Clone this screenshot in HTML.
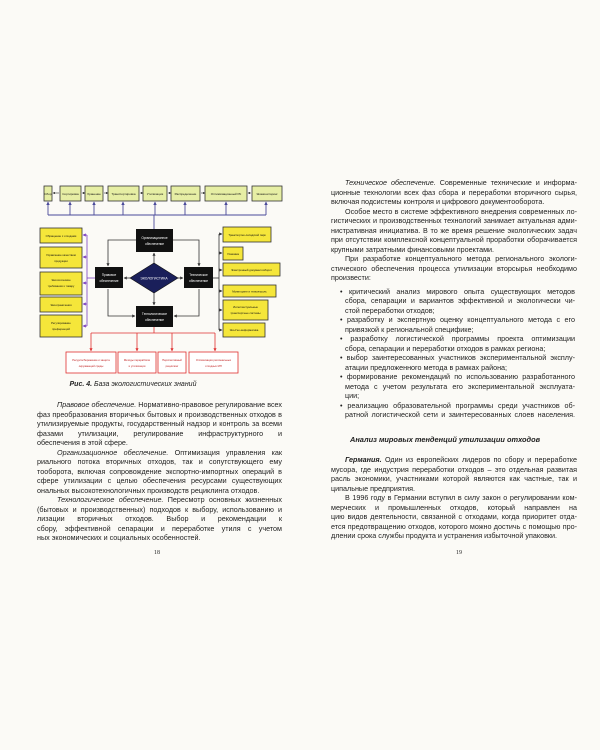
<!DOCTYPE html>
<html><head><meta charset="utf-8"><style>
html,body{margin:0;padding:0;background:#fbfaf6;}
body{width:600px;height:750px;position:relative;overflow:hidden;font-family:"Liberation Sans",sans-serif;color:#1e1e1e;}
.t{position:absolute;font-size:7.2px;line-height:9.5px;white-space:nowrap;}
.l{display:block;text-align:justify;text-align-last:justify;white-space:normal;height:9.5px;overflow:hidden;}
.e{text-align-last:left;}
i{font-style:italic;}
svg{position:absolute;left:0;top:0;}
</style></head><body>
<svg width="600" height="750" viewBox="0 0 600 750" font-family="Liberation Sans" >
<defs>
<marker id="a" markerWidth="4" markerHeight="4" refX="3.5" refY="2" orient="auto"><path d="M0,0L4,2L0,4z" fill="#333"/></marker>
<marker id="ab" markerWidth="4" markerHeight="4" refX="3.5" refY="2" orient="auto"><path d="M0,0L4,2L0,4z" fill="#4a4a9a"/></marker>
<marker id="ar" markerWidth="4" markerHeight="4" refX="3.5" refY="2" orient="auto"><path d="M0,0L4,2L0,4z" fill="#e03030"/></marker>
<marker id="ap" markerWidth="4" markerHeight="4" refX="3.5" refY="2" orient="auto"><path d="M0,0L4,2L0,4z" fill="#7a3fbf"/></marker>
</defs>
<g fill="#e6eea4" stroke="#333" stroke-width="0.8">
<rect x="44" y="186" width="8" height="15"/><rect x="60" y="186" width="21" height="15"/><rect x="85" y="186" width="18" height="15"/><rect x="108" y="186" width="31" height="15"/><rect x="143" y="186" width="24" height="15"/><rect x="171" y="186" width="29" height="15"/><rect x="205" y="186" width="42" height="15"/><rect x="252" y="186" width="30" height="15"/>
</g>
<g font-size="3" fill="#111" text-anchor="middle">
<text x="48" y="195">Сбор</text><text x="70.5" y="195">Сортировка</text><text x="94" y="195">Хранение</text><text x="123.5" y="195">Транспортировка</text><text x="155" y="195">Утилизация</text><text x="185.5" y="195">Распределение</text><text x="226" y="195">Оптимизационный РК</text><text x="267" y="195">Экомониторинг</text>
</g>
<g stroke="#333" stroke-width="0.6" marker-end="url(#a)">
<line x1="59" y1="193" x2="53" y2="193"/><line x1="82" y1="193" x2="85" y2="193"/><line x1="104" y1="193" x2="108" y2="193"/><line x1="140" y1="193" x2="143" y2="193"/><line x1="168" y1="193" x2="171" y2="193"/><line x1="201" y1="193" x2="205" y2="193"/><line x1="251" y1="193" x2="248" y2="193"/>
</g>
<g stroke="#4a4a9a" stroke-width="0.9" fill="none">
<path d="M48,215H266"/>
<g marker-end="url(#ab)"><line x1="48" y1="215" x2="48" y2="202"/><line x1="70" y1="215" x2="70" y2="202"/><line x1="94" y1="215" x2="94" y2="202"/><line x1="123" y1="215" x2="123" y2="202"/><line x1="155" y1="215" x2="155" y2="202"/><line x1="185" y1="215" x2="185" y2="202"/><line x1="226" y1="215" x2="226" y2="202"/><line x1="266" y1="215" x2="266" y2="202"/></g>
<line x1="154" y1="215" x2="154" y2="229"/>
</g>
<g stroke="#333" stroke-width="0.8" fill="none">
<path d="M136,240H108V266" marker-end="url(#a)"/><path d="M173,240H199V266" marker-end="url(#a)"/>
<path d="M108,289V316H135" marker-end="url(#a)"/><path d="M199,289V316H174" marker-end="url(#a)"/>
<line x1="154" y1="263" x2="154" y2="253" marker-end="url(#a)"/><line x1="154" y1="293" x2="154" y2="305" marker-end="url(#a)"/>
<line x1="130" y1="278" x2="124" y2="278" marker-end="url(#a)"/><line x1="178" y1="278" x2="183" y2="278" marker-end="url(#a)"/>
</g>
<g fill="#111"><rect x="136" y="229" width="37" height="23"/><rect x="95" y="267" width="28" height="21"/><rect x="184" y="267" width="29" height="21"/><rect x="136" y="306" width="37" height="21"/></g>
<polygon points="154,263 178,278 154,293 130,278" fill="#1a1f5a" stroke="#111" stroke-width="0.6"/>
<g font-size="3.2" fill="#fff" text-anchor="middle">
<text x="154.5" y="239">Организационное</text><text x="154.5" y="245">обеспечение</text>
<text x="109" y="276">Правовое</text><text x="109" y="282">обеспечение</text>
<text x="198.5" y="276">Техническое</text><text x="198.5" y="282">обеспечение</text>
<text x="154.5" y="315">Технологическое</text><text x="154.5" y="321">обеспечение</text>
<text x="154" y="279.5" font-size="3.4">ЭКОЛОГИСТИКА</text>
</g>
<g stroke="#7a3fbf" stroke-width="0.8" fill="none">
<path d="M87,235V326"/><line x1="87" y1="278" x2="95" y2="278"/>
<g marker-end="url(#ap)"><line x1="87" y1="235" x2="83" y2="235"/><line x1="87" y1="257" x2="83" y2="257"/><line x1="87" y1="283" x2="83" y2="283"/><line x1="87" y1="304" x2="83" y2="304"/><line x1="87" y1="326" x2="83" y2="326"/></g>
</g>
<g fill="#f5e63a" stroke="#333" stroke-width="0.8">
<rect x="40" y="228" width="42" height="15"/><rect x="40" y="247" width="42" height="21"/><rect x="40" y="272" width="42" height="23"/><rect x="40" y="297" width="42" height="15"/><rect x="40" y="315" width="42" height="22"/>
</g>
<g font-size="2.8" fill="#111" text-anchor="middle">
<text x="61" y="237">Обращение с отходами</text>
<text x="61" y="256">Управление качеством</text><text x="61" y="262">продукции</text>
<text x="61" y="281">Экологические</text><text x="61" y="287">требования к товару</text>
<text x="61" y="306">Экоограничения</text>
<text x="61" y="324">Регулирование</text><text x="61" y="330">преференций</text>
</g>
<g stroke="#333" stroke-width="0.8" fill="none">
<path d="M219,234V330"/><line x1="213" y1="278" x2="219" y2="278"/>
<g marker-end="url(#a)"><line x1="219" y1="234" x2="222" y2="234"/><line x1="219" y1="253" x2="222" y2="253"/><line x1="219" y1="270" x2="222" y2="270"/><line x1="219" y1="291" x2="222" y2="291"/><line x1="219" y1="310" x2="222" y2="310"/><line x1="219" y1="330" x2="222" y2="330"/></g>
</g>
<g fill="#f5e63a" stroke="#333" stroke-width="0.8">
<rect x="223" y="227" width="48" height="15"/><rect x="223" y="247" width="20" height="13"/><rect x="223" y="263" width="57" height="13"/><rect x="223" y="285" width="53" height="12"/><rect x="223" y="300" width="45" height="20"/><rect x="223" y="323" width="42" height="14"/>
</g>
<g font-size="2.8" fill="#111" text-anchor="middle">
<text x="247" y="236">Транспортно-складской парк</text><text x="233" y="255">Упаковка</text><text x="251.5" y="271">Электронный документооборот</text><text x="249.5" y="292.5">Мониторинг и техконтроль</text><text x="245.5" y="308">Интеллектуальные</text><text x="245.5" y="314">транспортные системы</text><text x="244" y="331">Эко-Гео-информатика</text>
</g>
<g stroke="#e03030" stroke-width="0.8" fill="none">
<path d="M154,327V333M91,333H215"/>
<g marker-end="url(#ar)"><line x1="91" y1="333" x2="91" y2="351"/><line x1="137" y1="333" x2="137" y2="351"/><line x1="172" y1="333" x2="172" y2="351"/><line x1="215" y1="333" x2="215" y2="351"/></g>
<rect x="66" y="352" width="50" height="21" fill="#fff"/><rect x="118" y="352" width="38" height="21" fill="#fff"/><rect x="158" y="352" width="28" height="21" fill="#fff"/><rect x="189" y="352" width="49" height="21" fill="#fff"/>
</g>
<g font-size="2.7" fill="#c02020" text-anchor="middle">
<text x="91" y="361">Ресурсосбережение и защита</text><text x="91" y="367">окружающей среды</text>
<text x="137" y="361">Методы переработки</text><text x="137" y="367">и утилизации</text>
<text x="172" y="361">Перспективный</text><text x="172" y="367">рециклинг</text>
<text x="213.5" y="361">Оптимизация региональных</text><text x="213.5" y="367">отходных МП</text>
</g>
<text x="133" y="386" font-size="7" text-anchor="middle" fill="#222" font-style="italic"><tspan font-weight="bold">Рис. 4.</tspan> База экологистических знаний</text>
</svg>

<div class="t" style="left:37px;top:400px;width:245px;">
<span class="l" style="padding-left:20px"><i>Правовое обеспечение.</i> Нормативно-правовое регулирование всех</span>
<span class="l">фаз преобразования вторичных бытовых и производственных отходов в</span>
<span class="l">утилизируемые продукты, государственный надзор и контроль за всеми</span>
<span class="l">фазами утилизации, регулирование инфраструктурного и персонального</span>
<span class="l e">обеспечения в этой сфере.</span>
<span class="l" style="padding-left:20px"><i>Организационное обеспечение.</i> Оптимизация управления как мате-</span>
<span class="l">риального потока вторичных отходов, так и сопутствующего ему докумен-</span>
<span class="l">тооборота, включая сопровождение экспортно-импортных операций в</span>
<span class="l">сфере утилизации с целью обеспечения ресурсами существующих наци-</span>
<span class="l e">ональных высокотехнологичных производств рециклинга отходов.</span>
<span class="l" style="padding-left:20px"><i>Технологическое обеспечение.</i> Пересмотр основных жизненных</span>
<span class="l">(бытовых и производственных) подходов к выбору, использованию и ути-</span>
<span class="l">лизации вторичных отходов. Выбор и рекомендации к оптимизационному</span>
<span class="l">сбору, эффективной сепарации и переработке утиля с учетом региональ-</span>
<span class="l e">ных экономических и социальных особенностей.</span>
</div>
<div class="t" style="left:154px;top:549px;font-family:'Liberation Serif';font-size:6px;">18</div>

<div class="t" style="left:331px;top:178px;width:246px;">
<span class="l" style="padding-left:14px"><i>Техническое обеспечение.</i> Современные технические и информа-</span>
<span class="l">ционные технологии всех фаз сбора и переработки вторичного сырья,</span>
<span class="l e">включая подсистемы контроля и цифрового документооборота.</span>
<span class="l" style="padding-left:14px">Особое место в системе эффективного внедрения современных ло-</span>
<span class="l">гистических и производственных технологий занимает актуальная адми-</span>
<span class="l">нистративная инициатива. В то же время решение экологических задач</span>
<span class="l">при отсутствии комплексной концептуальной проработки оборачивается</span>
<span class="l e">крупными затратными финансовыми проектами.</span>
<span class="l" style="padding-left:14px">При разработке концептуального метода регионального экологи-</span>
<span class="l">стического обеспечения процесса утилизации вторсырья необходимо</span>
<span class="l e">произвести:</span>
</div>
<div class="t" style="left:340px;top:286.5px;width:235px;">
<span class="l">• критический анализ мирового опыта существующих методов</span>
<span class="l" style="padding-left:5px">сбора, сепарации и вариантов эффективной и экологически чи-</span>
<span class="l e" style="padding-left:5px">стой переработки отходов;</span>
<span class="l">• разработку и экспертную оценку концептуального метода с его</span>
<span class="l e" style="padding-left:5px">привязкой к региональной специфике;</span>
<span class="l">• разработку логистической программы проекта оптимизации</span>
<span class="l e" style="padding-left:5px">сбора, сепарации и переработки отходов в рамках региона;</span>
<span class="l">• выбор заинтересованных участников экспериментальной эксплу-</span>
<span class="l e" style="padding-left:5px">атации предложенного метода в рамках района;</span>
<span class="l">• формирование рекомендаций по использованию разработанного</span>
<span class="l" style="padding-left:5px">метода с учетом результата его экспериментальной эксплуата-</span>
<span class="l e" style="padding-left:5px">ции;</span>
<span class="l">• реализацию образовательной программы среди участников об-</span>
<span class="l" style="padding-left:5px">ратной логистической сети и заинтересованных слоев населения.</span>
</div>
<div class="t" style="left:350px;top:435px;font-weight:bold;font-style:italic;font-size:7.4px;">Анализ мировых тенденций утилизации отходов</div>
<div class="t" style="left:331px;top:455px;width:246px;">
<span class="l" style="padding-left:14px"><b><i>Германия.</i></b> Один из европейских лидеров по сбору и переработке</span>
<span class="l">мусора, где индустрия переработки отходов – это отдельная развитая от-</span>
<span class="l">расль экономики, участниками которой являются как частные, так и муни-</span>
<span class="l e">ципальные предприятия.</span>
<span class="l" style="padding-left:14px">В 1996 году в Германии вступил в силу закон о регулировании ком-</span>
<span class="l">мерческих и промышленных отходов, который направлен на структуриза-</span>
<span class="l">цию видов деятельности, связанной с отходами, когда приоритет отда-</span>
<span class="l">ется предотвращению отходов, которого можно достичь с помощью про-</span>
<span class="l e">длении срока службы продукта и устранения избыточной упаковки.</span>
</div>
<div class="t" style="left:456px;top:549px;font-family:'Liberation Serif';font-size:6px;">19</div>
</body></html>
